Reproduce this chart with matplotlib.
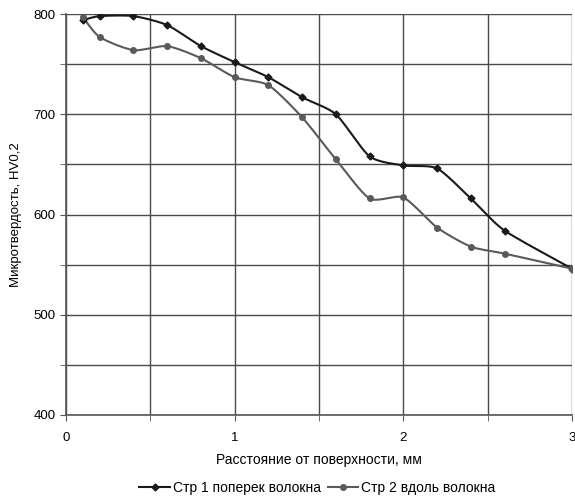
import matplotlib
matplotlib.use("Agg")
import matplotlib.pyplot as plt
from matplotlib.ticker import MultipleLocator
import numpy as np

# Data
depth = [0.1, 0.2, 0.4, 0.6, 0.8, 1.0, 1.2, 1.4, 1.6, 1.8, 2.0, 2.2, 2.4, 2.6, 3.0]
hv_across = [794, 798, 798, 789, 768, 752, 737, 717, 700, 658, 649, 646, 616, 584, 546]
hv_along = [797, 777, 764, 768, 756, 737, 729, 697, 655, 616, 617, 587, 568, 561, 546]

labels = ["Стр 1 поперек волокна", "Стр 2 вдоль волокна"]


def smooth(x, y, n=20):
    # Catmull-Rom path through the points (like Excel "smoothed line")
    x = np.asarray(x, float)
    y = np.asarray(y, float)
    px = np.concatenate([[x[0]], x, [x[-1]]])
    py = np.concatenate([[y[0]], y, [y[-1]]])
    xs, ys = [], []
    t = np.linspace(0, 1, n, endpoint=False)
    for i in range(1, len(px) - 2):
        p0, p1, p2, p3 = [np.array([px[j], py[j]]) for j in (i - 1, i, i + 1, i + 2)]
        m1 = (p2 - p0) / 2 * 0.7
        m2 = (p3 - p1) / 2 * 0.7
        h00 = 2 * t**3 - 3 * t**2 + 1
        h10 = t**3 - 2 * t**2 + t
        h01 = -2 * t**3 + 3 * t**2
        h11 = t**3 - t**2
        seg = np.outer(h00, p1) + np.outer(h10, m1) + np.outer(h01, p2) + np.outer(h11, m2)
        xs.extend(seg[:, 0])
        ys.extend(seg[:, 1])
    xs.append(x[-1])
    ys.append(y[-1])
    return xs, ys


plt.rcParams["font.family"] = ["Liberation Sans", "DejaVu Sans"]

fig = plt.figure(figsize=(5.75, 5.03), dpi=100)
ax = fig.add_axes([0.1148, 0.175, 0.88, 0.797])

c1 = "#1a1a1a"
c2 = "#5a5a5a"

sx, sy = smooth(depth, hv_across)
ax.plot(sx, sy, color=c1, lw=1.5, zorder=3)
ax.plot(depth, hv_across, ls="none", marker="D", ms=3.5, color=c1, zorder=4)
sx, sy = smooth(depth, hv_along)
ax.plot(sx, sy, color=c2, lw=1.5, zorder=3)
ax.plot(depth, hv_along, ls="none", marker="o", ms=4, color=c2, zorder=4)

ax.set_xlim(0, 3)
ax.set_ylim(400, 800)
ax.xaxis.set_major_locator(MultipleLocator(1))
ax.xaxis.set_minor_locator(MultipleLocator(0.5))
ax.yaxis.set_major_locator(MultipleLocator(100))
ax.yaxis.set_minor_locator(MultipleLocator(50))
ax.grid(True, which="both", color="#4a4a4a", lw=1.0)
ax.set_axisbelow(True)
for s in ("top", "right"):
    ax.spines[s].set_visible(False)
for s in ("left", "bottom"):
    ax.spines[s].set_color("#555555")
    ax.spines[s].set_linewidth(1.2)
ax.tick_params(which="both", direction="out", length=4, color="#555555", labelsize=9.5)
ax.tick_params(axis="x", pad=8)

ax.set_xlabel("Расстояние от поверхности, мм", fontsize=10, labelpad=7)
ax.set_ylabel("Микротвердость, HV0,2", fontsize=9.5, labelpad=8)

h1, = ax.plot([], [], color=c1, lw=1.5, marker="D", ms=3.5)
h2, = ax.plot([], [], color=c2, lw=1.5, marker="o", ms=4)
fig.legend([h1, h2], labels, loc="center", bbox_to_anchor=(0.552, 0.03), ncol=2,
           frameon=False, fontsize=10, handlelength=2.2, handletextpad=0.2,
           columnspacing=0.5)

fig.savefig("out.png", dpi=100)
